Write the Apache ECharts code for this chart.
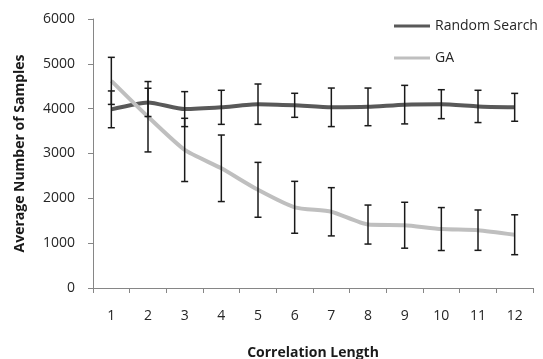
<!DOCTYPE html>
<html><head><meta charset="utf-8">
<script src="https://cdn.jsdelivr.net/npm/echarts@6/dist/echarts.min.js"></script>
<style>html,body{margin:0;padding:0;background:#fff}#c{width:543px;height:359px}</style>
</head><body><div id="c"></div>
<script>
const categories = ['1','2','3','4','5','6','7','8','9','10','11','12'];
const rsMean = [3985, 4140, 3990, 4030, 4100, 4075, 4030, 4040, 4090, 4100, 4050, 4030];
const rsErr  = [410, 315, 390, 380, 450, 268, 430, 420, 430, 323, 360, 311];
const gaMean = [4620, 3820, 3080, 2670, 2190, 1800, 1700, 1415, 1400, 1315, 1290, 1188];
const gaErr  = [525, 785, 705, 742, 612, 579, 538, 435, 512, 479, 450, 445];
const yTicks = [0, 1000, 2000, 3000, 4000, 5000, 6000];

function errData(mean, err){ return mean.map((m,i)=>[i, m-err[i], m+err[i]]); }
function renderErr(params, api){
  const x = api.value(0);
  const lo = api.coord([x, api.value(1)]);
  const hi = api.coord([x, api.value(2)]);
  const hw = 3.5;
  const st = {stroke:'#1a1a1a', lineWidth:1.5};
  return {type:'group', children:[
    {type:'line', shape:{x1:lo[0], y1:lo[1], x2:hi[0], y2:hi[1]}, style:st},
    {type:'line', shape:{x1:lo[0]-hw, y1:lo[1], x2:lo[0]+hw, y2:lo[1]}, style:st},
    {type:'line', shape:{x1:hi[0]-hw, y1:hi[1], x2:hi[0]+hw, y2:hi[1]}, style:st}
  ]};
}
const font = 'Open Sans';
const chart = echarts.init(document.getElementById('c'), null, {renderer:'canvas'});
chart.setOption({
  animation:false,
  backgroundColor:'#fff',
  grid:{left:93, right:10, top:19, bottom:71, containLabel:false, outerBoundsMode:'none'},
  legend:{
    orient:'vertical', left:389, top:14, icon:'rect', itemWidth:36, itemHeight:3, itemGap:18,
    textStyle:{fontFamily:font, fontSize:14, color:'#262626'},
    data:['Random Search','GA']
  },
  xAxis:{
    type:'category', data:categories, boundaryGap:true,
    name:'Correlation Length', nameLocation:'middle', nameGap:58,
    nameTextStyle:{fontFamily:font, fontSize:14, fontWeight:'bold', color:'#1a1a1a'},
    axisLine:{lineStyle:{color:'#868686', width:1}},
    axisTick:{show:true, inside:false, length:5, lineStyle:{color:'#868686'}},
    axisLabel:{fontFamily:font, fontSize:14, color:'#262626', margin:21}
  },
  yAxis:{
    type:'value', min:yTicks[0], max:yTicks[yTicks.length-1], interval:1000,
    name:'Average Number of Samples', nameLocation:'middle', nameGap:66,
    nameTextStyle:{fontFamily:font, fontSize:14, fontWeight:'bold', color:'#1a1a1a'},
    splitLine:{show:false},
    axisLine:{show:true, lineStyle:{color:'#868686', width:1}},
    axisTick:{show:true, inside:false, length:5, lineStyle:{color:'#868686'}},
    axisLabel:{fontFamily:font, fontSize:14, color:'#262626', margin:18, formatter:(v)=>String(v)}
  },
  series:[
    {name:'Random Search', type:'line', data:rsMean, symbol:'none', smooth:0.2,
     lineStyle:{color:'#595959', width:4}, itemStyle:{color:'#595959'}, z:2},
    {name:'GA', type:'line', data:gaMean, symbol:'none', smooth:0.2,
     lineStyle:{color:'#bfbfbf', width:4}, itemStyle:{color:'#bfbfbf'}, z:2},
    {name:'rsErr', type:'custom', data:errData(rsMean, rsErr), renderItem:renderErr, encode:{x:0, y:[1,2]}, z:5},
    {name:'gaErr', type:'custom', data:errData(gaMean, gaErr), renderItem:renderErr, encode:{x:0, y:[1,2]}, z:5}
  ]
});
</script></body></html>
